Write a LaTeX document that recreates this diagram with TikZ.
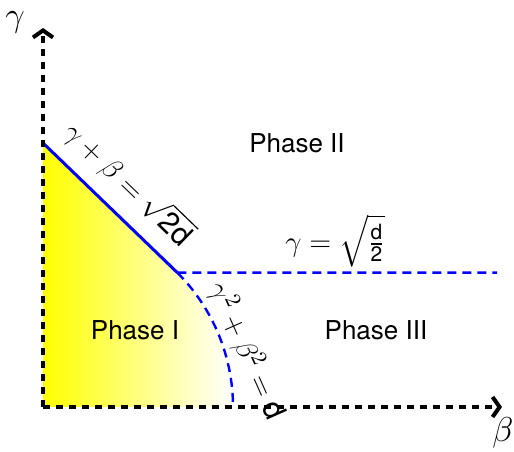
\documentclass[tikz,border=0pt]{standalone}
\usepackage{amsmath}
\usepackage{fontspec}
\setmainfont{TeX Gyre Heros}
\usetikzlibrary{arrows.meta}

\begin{document}
\begin{tikzpicture}[
      x=0.5pt, y=0.5pt,
      font=\fontsize{13}{15}\selectfont,
      axis/.style={line width=2pt, dash pattern=on 3.5pt off 3pt, -{Straight Barb[length=3.5pt, width=10pt]}},
      border/.style={blue, line width=1.5pt},
      limit/.style={blue, line width=1.2pt, dash pattern=on 4.5pt off 3pt},
      phase/.style={font=\fontsize{13}{15}\selectfont},
      lbl/.style={font=\fontsize{15}{17}\selectfont, inner sep=1pt}
    ]
    \useasboundingbox (-43,-44) rectangle (471,407);
    % Points
    \coordinate (O) at (0,0);
    \coordinate (ytip) at (0,379);
    \coordinate (xtip) at (459,0);
    \coordinate (A) at (0,264);
    \coordinate (C) at (45:190);
    \coordinate (E) at (454,134.4);
    \coordinate (B) at (190,0);

    % Phase I region
    \shade[left color=yellow, right color=white] (O) -- (A) -- (C) arc[start angle=45, end angle=0, radius=190] -- cycle;

    % Boundaries
    \draw[border] (A) -- (C);
    \draw[limit] (C) -- (E);
    \draw[limit] (C) arc[start angle=45, end angle=0, radius=190];

    % Axes
    \draw[axis] (O) -- (ytip);
    \draw[axis] (O) -- (xtip);

    % Labels
    \node[lbl] (gam) at (-28,385) {\fontsize{17}{19}\selectfont$\gamma$};
    \node[lbl] (bet) at (460,-26) {\fontsize{17}{19}\selectfont$\beta$};
    \node[phase] (p2) at (254,264) {Phase II};
    \node[phase] (p1) at (92,77) {Phase I};
    \node[phase] (p3) at (333,77) {Phase III};
    \node[lbl] (flat) at (292,166) {$\gamma=\sqrt{\frac{\text{d}}{\text{2}}}$};
    \node[lbl, rotate=-44] (diag) at (86,224) {$\gamma+\beta=\sqrt{\text{2d}}$};
    \node[lbl, rotate=-66] (circ) at (204,56) {$\gamma^2+\beta^2=\text{d}$};
  \end{tikzpicture}
\end{document}
